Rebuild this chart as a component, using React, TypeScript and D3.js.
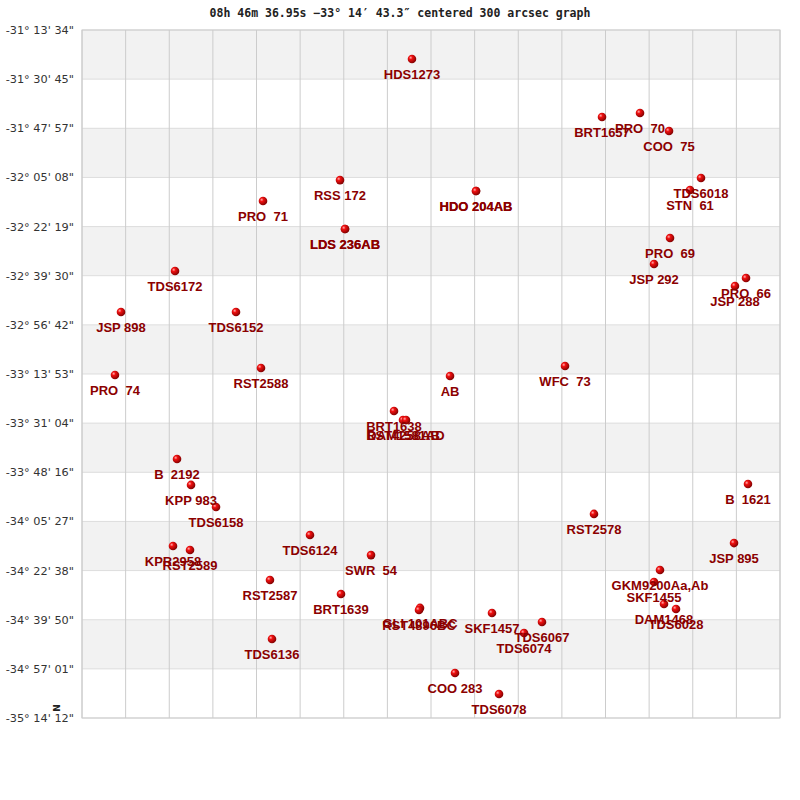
import React, { useEffect, useRef } from 'react';
import * as d3 from 'd3';

// star names, RA offset (grid cells from centre, east to the left) and declination (deg)
const names = [
  'HDS1273', 'BRT1657', 'PRO  70', 'COO  75', 'TDS6018', 'STN  61', 'RSS 172', 'HDO 204AB',
  'HDO 204AB', 'PRO  71', 'LDS 236AB', 'LDS 236AB', 'PRO  69', 'JSP 292', 'TDS6172', 'PRO  66',
  'JSP 288', 'JSP 898', 'TDS6152', 'RST2588', 'WFC  73', 'PRO  74', 'AB', 'BRT1638',
  'RST4258AB', 'DAM1581AD', 'B  2192', 'B  1621', 'KPP 983', 'TDS6158', 'RST2578', 'TDS6124',
  'JSP 895', 'KPR2958', 'RST2589', 'SWR  54', 'GKM9200Aa,Ab', 'SKF1455', 'RST2587', 'BRT1639',
  'DAM1468', 'TDS6028', 'GLI 101ABC', 'RST4896BC', 'SKF1457', 'TDS6067', 'TDS6074', 'TDS6136',
  'COO 283', 'TDS6078',
];
const raOffset = [
  -0.436, 3.920, 4.791, 5.456, 6.189, 5.937, -2.086, 1.032,
  1.032, -3.851, -1.971, -1.971, 5.479, 5.112, -5.868, 7.221,
  6.968, -7.106, -4.470, -3.897, 3.072, -7.244, 0.436, -0.848,
  -0.642, -0.573, -5.822, 7.266, -5.501, -4.928, 3.736, -2.774,
  6.946, -5.914, -5.524, -1.375, 5.249, 5.112, -3.691, -2.063,
  5.341, 5.616, -0.252, -0.275, 1.398, 2.544, 2.132, -3.645,
  0.550, 1.559,
];
const decDeg = [
  -31.395, -31.733, -31.710, -31.815, -32.089, -32.159, -32.101, -32.165,
  -32.165, -32.223, -32.386, -32.386, -32.439, -32.590, -32.631, -32.672,
  -32.718, -32.870, -32.870, -33.196, -33.185, -33.237, -33.243, -33.447,
  -33.500, -33.500, -33.727, -33.873, -33.878, -34.007, -34.047, -34.170,
  -34.217, -34.234, -34.257, -34.287, -34.374, -34.444, -34.432, -34.514,
  -34.572, -34.601, -34.595, -34.607, -34.625, -34.677, -34.741, -34.776,
  -34.974, -35.097,
];

const decTickLabels = [
  `-31° 13' 34"`, `-31° 30' 45"`, `-31° 47' 57"`, `-32° 05' 08"`, `-32° 22' 19"`,
  `-32° 39' 30"`, `-32° 56' 42"`, `-33° 13' 53"`, `-33° 31' 04"`, `-33° 48' 16"`,
  `-34° 05' 27"`, `-34° 22' 38"`, `-34° 39' 50"`, `-34° 57' 01"`, `-35° 14' 12"`,
];
const raGridCells = d3.range(-8, 9);
const title = '08h 46m 36.95s \u221233° 14\u2032 43.3\u2033 centered 300 arcsec graph';

const parseDms = (s: string) => {
  const m = s.match(/(-?)(\d+)°\s*(\d+)'\s*(\d+)"/)!;
  const v = +m[2] + +m[3] / 60 + +m[4] / 3600;
  return m[1] ? -v : v;
};

export default function App() {
  const ref = useRef<SVGSVGElement>(null);

  useEffect(() => {
    const svg = d3.select(ref.current);
    svg.selectAll('*').remove();

    const left = 82, right = 780, top = 30, bottom = 718;
    const decTicks = decTickLabels.map(parseDms);

    const x = d3.scaleLinear().domain([-8, 8]).range([left, right]);
    const y = d3.scaleLinear().domain([decTicks[0], decTicks[decTicks.length - 1]]).range([top, bottom]);

    const defs = svg.append('defs');
    const grad = defs.append('radialGradient').attr('id', 'ball')
      .attr('cx', '35%').attr('cy', '35%').attr('r', '70%');
    grad.append('stop').attr('offset', '0%').attr('stop-color', '#ffb0b0');
    grad.append('stop').attr('offset', '30%').attr('stop-color', '#f01010');
    grad.append('stop').attr('offset', '100%').attr('stop-color', '#7a0000');

    svg.append('text')
      .attr('x', 400).attr('y', 17)
      .attr('text-anchor', 'middle')
      .attr('font-family', '"DejaVu Sans Mono", monospace')
      .attr('font-weight', 'bold')
      .attr('font-size', 11.5)
      .attr('fill', '#222')
      .text(title);

    // alternating bands
    svg.append('g').selectAll('rect')
      .data(d3.range(decTicks.length - 1))
      .join('rect')
      .attr('x', left).attr('width', right - left)
      .attr('y', i => y(decTicks[i]))
      .attr('height', i => y(decTicks[i + 1]) - y(decTicks[i]))
      .attr('fill', i => (i % 2 === 0 ? '#f2f2f2' : '#ffffff'));

    // grid
    svg.append('g').selectAll('line')
      .data(decTicks)
      .join('line')
      .attr('x1', left).attr('x2', right)
      .attr('y1', d => y(d)).attr('y2', d => y(d))
      .attr('stroke', '#dddddd');
    svg.append('g').selectAll('line')
      .data(raGridCells)
      .join('line')
      .attr('x1', d => x(d)).attr('x2', d => x(d))
      .attr('y1', top).attr('y2', bottom)
      .attr('stroke', '#cccccc');
    svg.append('rect')
      .attr('x', left).attr('y', top)
      .attr('width', right - left).attr('height', bottom - top)
      .attr('fill', 'none').attr('stroke', '#cccccc');

    // dec labels
    svg.append('g').selectAll('text')
      .data(decTickLabels)
      .join('text')
      .attr('x', 74)
      .attr('y', (_, i) => y(decTicks[i]) + 4)
      .attr('text-anchor', 'end')
      .attr('font-family', '"DejaVu Sans", sans-serif')
      .attr('font-size', 11.3)
      .attr('fill', '#333')
      .text(d => d);

    svg.append('text')
      .attr('transform', 'translate(60,708) rotate(-90)')
      .attr('text-anchor', 'middle')
      .attr('font-family', '"DejaVu Sans", sans-serif')
      .attr('font-weight', 'bold')
      .attr('font-size', 9)
      .attr('fill', '#222')
      .text('N');

    const stars = names.map((n, i) => ({ n, ra: raOffset[i], dec: decDeg[i] }));

    svg.append('g').selectAll('circle')
      .data(stars)
      .join('circle')
      .attr('cx', d => x(d.ra))
      .attr('cy', d => y(d.dec))
      .attr('r', 4.3)
      .attr('fill', 'url(#ball)');

    svg.append('g').selectAll('text')
      .data(stars)
      .join('text')
      .attr('x', d => x(d.ra))
      .attr('y', d => y(d.dec) + 20)
      .attr('text-anchor', 'middle')
      .attr('font-family', '"Liberation Sans", Arial, sans-serif')
      .attr('font-weight', 'bold')
      .attr('font-size', 13)
      .attr('fill', '#8b0000')
      .style('white-space', 'pre')
      .text(d => d.n);
  }, []);

  return (
    <svg
      ref={ref}
      width={800}
      height={800}
      style={{ position: 'absolute', left: 0, top: 0, background: '#fff' }}
    />
  );
}
